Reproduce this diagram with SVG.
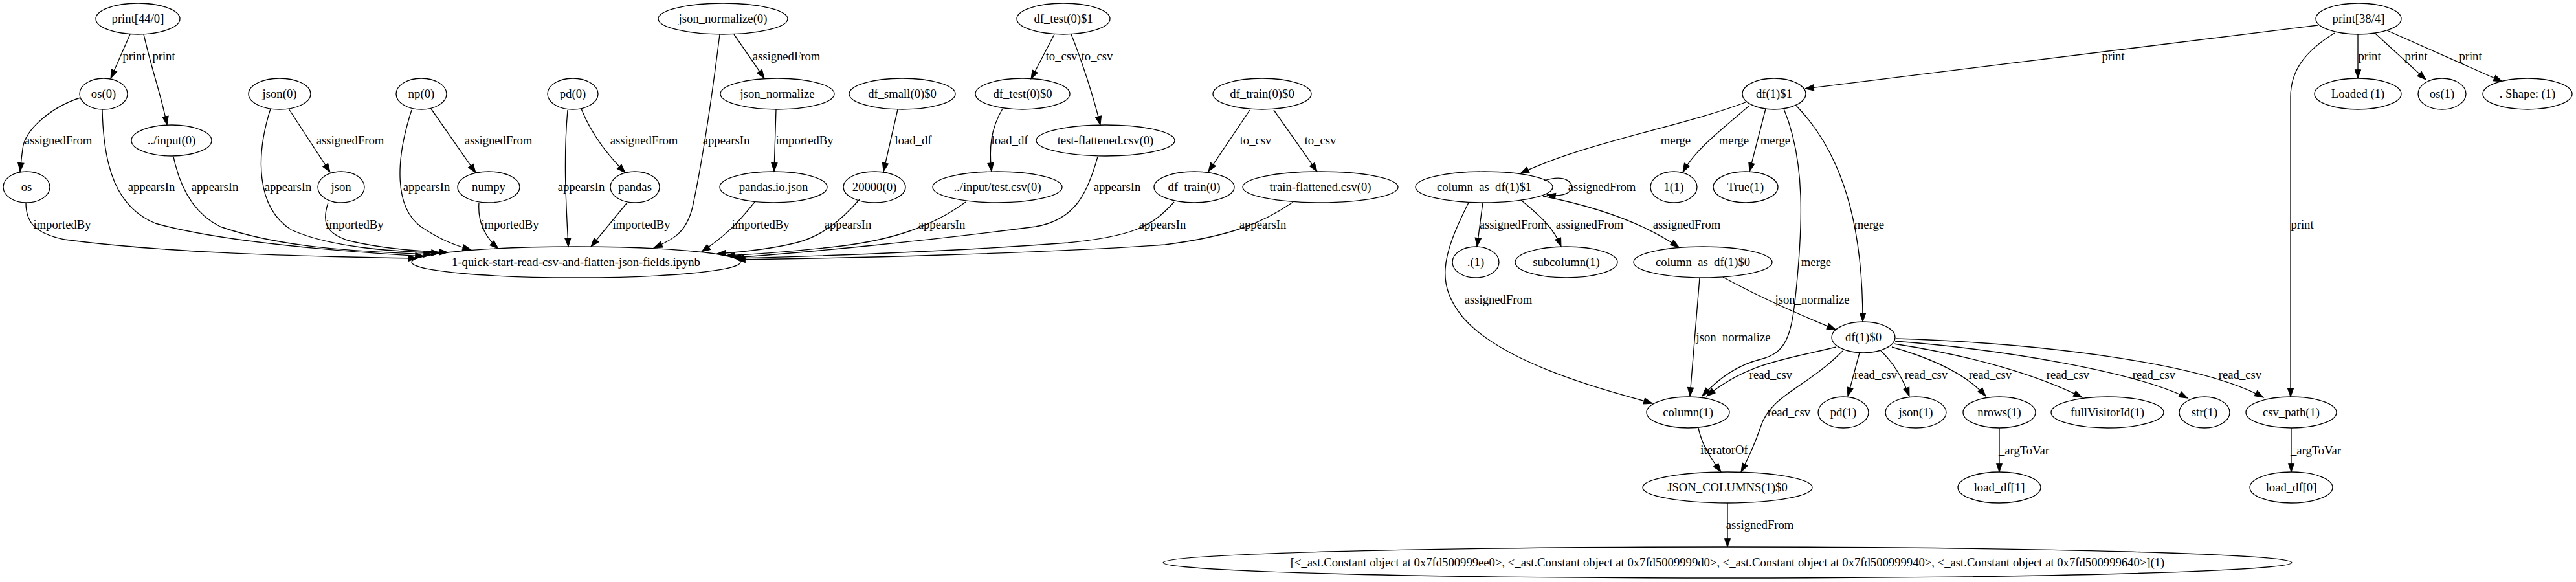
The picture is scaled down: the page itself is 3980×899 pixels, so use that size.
<svg xmlns="http://www.w3.org/2000/svg" width="3980" height="899" viewBox="0 0 3980 899">
<style>
.nd ellipse{fill:none;stroke:#000;stroke-width:1.33}
text{font-family:"Liberation Serif","Times New Roman",serif;font-size:18.67px;text-anchor:middle;fill:#000}
.ed path{fill:none;stroke:#000;stroke-width:1.33;marker-end:url(#arr)}
</style>
<defs>
<marker id="arr" markerUnits="userSpaceOnUse" markerWidth="16" markerHeight="12" refX="13.3" refY="0" viewBox="0 -6 16 12" orient="auto" overflow="visible">
<path d="M0,-4.67 L13.3,0 L0,4.67 z" fill="#000" stroke="#000" stroke-width="1"/>
</marker>
</defs>
<rect width="3980" height="899" fill="#fff"/>
<g id="edges" class="ed">
<g><path d="M201,53 L171,121"/><text x="207" y="93">print</text></g>
<g><path d="M222,53 C235,110 250,150 258,193"/><text x="253" y="93">print</text></g>
<g><path d="M124,151 C80,165 38,200 35,230 C33,245 32,255 31,265"/><text x="90" y="223">assignedFrom</text></g>
<g><path d="M158,169 C160,260 180,320 240,345 C300,362 420,382 655,396"/><text x="234" y="295">appearsIn</text></g>
<g><path d="M268,242 C278,290 300,330 340,350 C420,378 520,388 668,393"/><text x="332" y="295">appearsIn</text></g>
<g><path d="M40,313 C40,340 50,360 100,370 C250,390 450,396 644,399"/><text x="96" y="353">importedBy</text></g>
<g><path d="M446,168 L510,266"/><text x="541" y="223">assignedFrom</text></g>
<g><path d="M418,168 C395,240 395,320 450,355 C510,382 600,388 680,391"/><text x="445" y="295">appearsIn</text></g>
<g><path d="M507,313 C498,340 500,360 540,372 C590,384 640,388 692,390"/><text x="548" y="353">importedBy</text></g>
<g><path d="M666,168 L735,267"/><text x="770" y="223">assignedFrom</text></g>
<g><path d="M636,170 C610,250 610,320 650,350 C680,370 700,378 728,386"/><text x="659" y="295">appearsIn</text></g>
<g><path d="M740,313 C738,340 748,365 770,384"/><text x="788" y="353">importedBy</text></g>
<g><path d="M898,168 C915,210 940,240 966,267"/><text x="995" y="223">assignedFrom</text></g>
<g><path d="M877,170 C870,250 875,320 878,381"/><text x="898" y="295">appearsIn</text></g>
<g><path d="M969,313 L913,381"/><text x="991" y="353">importedBy</text></g>
<g><path d="M1134,53 L1181,121"/><text x="1215" y="93">assignedFrom</text></g>
<g><path d="M1112,53 C1100,150 1085,250 1070,320 C1060,360 1040,370 1010,383"/><text x="1122" y="223">appearsIn</text></g>
<g><path d="M1199,169 L1196,265"/><text x="1243" y="223">importedBy</text></g>
<g><path d="M1166,312 C1140,345 1120,365 1084,389"/><text x="1175" y="353">importedBy</text></g>
<g><path d="M1387,169 L1365,265"/><text x="1411" y="223">load_df</text></g>
<g><path d="M1328,308 C1300,340 1270,365 1230,375 C1190,385 1150,389 1108,392"/><text x="1310" y="353">appearsIn</text></g>
<g><path d="M1629,53 L1593,122"/><text x="1640" y="93">to_csv</text></g>
<g><path d="M1655,53 C1670,90 1690,150 1700,193"/><text x="1695" y="93">to_csv</text></g>
<g><path d="M1549,168 C1530,200 1528,230 1532,265"/><text x="1560" y="223">load_df</text></g>
<g><path d="M1492,312 C1440,350 1380,370 1300,380 C1230,388 1180,392 1122,395"/><text x="1455" y="353">appearsIn</text></g>
<g><path d="M1696,242 C1680,300 1660,340 1600,350 C1450,370 1250,390 1132,398"/><text x="1726" y="295">appearsIn</text></g>
<g><path d="M1931,170 L1867,265"/><text x="1940" y="223">to_csv</text></g>
<g><path d="M1968,170 L2035,265"/><text x="2040" y="223">to_csv</text></g>
<g><path d="M1814,312 C1780,350 1750,365 1650,375 C1450,390 1250,396 1136,399"/><text x="1796" y="353">appearsIn</text></g>
<g><path d="M1998,312 C1950,345 1900,365 1800,378 C1600,392 1300,399 1138,401"/><text x="1951" y="353">appearsIn</text></g>
<g><path d="M3581,39 L2789,137"/><text x="3265" y="93">print</text></g>
<g><path d="M3643,53 L3643,121"/><text x="3661" y="93">print</text></g>
<g><path d="M3669,51 L3748,123"/><text x="3733" y="93">print</text></g>
<g><path d="M3688,47 L3866,126"/><text x="3817" y="93">print</text></g>
<g><path d="M3607,51 C3560,80 3539,110 3539,150 L3539,613"/><text x="3557" y="353">print</text></g>
<g><path d="M2697,158 C2600,195 2450,220 2349,268"/><text x="2589" y="223">merge</text></g>
<g><path d="M2703,163 C2660,200 2620,230 2600,266"/><text x="2679" y="223">merge</text></g>
<g><path d="M2728,168 L2703,265"/><text x="2743" y="223">merge</text></g>
<g><path d="M2756,168 C2790,250 2785,350 2775,449 C2768,520 2760,545 2720,555 C2680,565 2650,590 2630,612"/><text x="2806" y="411">merge</text></g>
<g><path d="M2775,163 C2860,250 2878,380 2878,497"/><text x="2888" y="353">merge</text></g>
<g><path d="M2386,279 C2420,268 2432,284 2428,292 C2424,300 2410,304 2390,301"/><text x="2475" y="295">assignedFrom</text></g>
<g><path d="M2291,313 L2282,381"/><text x="2338" y="353">assignedFrom</text></g>
<g><path d="M2350,309 C2375,330 2400,350 2412,381"/><text x="2456" y="353">assignedFrom</text></g>
<g><path d="M2384,303 C2470,320 2540,345 2594,382"/><text x="2606" y="353">assignedFrom</text></g>
<g><path d="M2269,313 C2225,400 2220,440 2260,490 C2320,560 2470,600 2553,623"/><text x="2315" y="469">assignedFrom</text></g>
<g><path d="M2626,429 L2611,612"/><text x="2678" y="527">json_normalize</text></g>
<g><path d="M2662,428 C2720,460 2790,490 2836,509"/><text x="2800" y="469">json_normalize</text></g>
<g><path d="M2837,536 C2760,555 2700,560 2637,612"/><text x="2736" y="585">read_csv</text></g>
<g><path d="M2847,542 C2790,600 2735,610 2720,660 C2710,690 2700,710 2690,729"/><text x="2764" y="643">read_csv</text></g>
<g><path d="M2873,545 L2855,612"/><text x="2898" y="585">read_csv</text></g>
<g><path d="M2906,542 C2925,560 2940,585 2950,612"/><text x="2976" y="585">read_csv</text></g>
<g><path d="M2923,536 C2990,555 3040,580 3068,612"/><text x="3075" y="585">read_csv</text></g>
<g><path d="M2926,531 C3050,550 3150,580 3217,614"/><text x="3195" y="585">read_csv</text></g>
<g><path d="M2928,527 C3100,540 3300,575 3380,615"/><text x="3328" y="585">read_csv</text></g>
<g><path d="M2929,523 C3150,530 3400,560 3497,614"/><text x="3461" y="585">read_csv</text></g>
<g><path d="M2624,661 C2630,690 2645,710 2659,729"/><text x="2664" y="701">iteratorOf</text></g>
<g><path d="M2669,777 L2669,845"/><text x="2719" y="817">assignedFrom</text></g>
<g><path d="M3089,661 L3089,729"/><text x="3127" y="702">_argToVar</text></g>
<g><path d="M3540,661 L3540,729"/><text x="3578" y="702">_argToVar</text></g>
</g>
<g id="n_print44" class="nd"><ellipse cx="213" cy="29" rx="65" ry="24"/><text x="213" y="35">print[44/0]</text></g>
<g id="n_os0" class="nd"><ellipse cx="160" cy="145" rx="37" ry="24"/><text x="160" y="151">os(0)</text></g>
<g id="n_input0" class="nd"><ellipse cx="265" cy="217" rx="62" ry="24"/><text x="265" y="223">../input(0)</text></g>
<g id="n_os" class="nd"><ellipse cx="41" cy="289" rx="36" ry="24"/><text x="41" y="295">os</text></g>
<g id="n_json0" class="nd"><ellipse cx="432" cy="145" rx="48" ry="24"/><text x="432" y="151">json(0)</text></g>
<g id="n_json" class="nd"><ellipse cx="527" cy="289" rx="36" ry="24"/><text x="527" y="295">json</text></g>
<g id="n_np0" class="nd"><ellipse cx="651" cy="145" rx="39" ry="24"/><text x="651" y="151">np(0)</text></g>
<g id="n_numpy" class="nd"><ellipse cx="755" cy="289" rx="48" ry="24"/><text x="755" y="295">numpy</text></g>
<g id="n_pd0" class="nd"><ellipse cx="885" cy="145" rx="39" ry="24"/><text x="885" y="151">pd(0)</text></g>
<g id="n_pandas" class="nd"><ellipse cx="981" cy="289" rx="38" ry="24"/><text x="981" y="295">pandas</text></g>
<g id="n_jn0" class="nd"><ellipse cx="1117" cy="29" rx="100" ry="24"/><text x="1117" y="35">json_normalize(0)</text></g>
<g id="n_jn" class="nd"><ellipse cx="1201" cy="145" rx="88" ry="24"/><text x="1201" y="151">json_normalize</text></g>
<g id="n_pandasio" class="nd"><ellipse cx="1195" cy="289" rx="83" ry="24"/><text x="1195" y="295">pandas.io.json</text></g>
<g id="n_dfsmall" class="nd"><ellipse cx="1394" cy="145" rx="82" ry="24"/><text x="1394" y="151">df_small(0)$0</text></g>
<g id="n_20000" class="nd"><ellipse cx="1351" cy="289" rx="48" ry="24"/><text x="1351" y="295">20000(0)</text></g>
<g id="n_dftest1" class="nd"><ellipse cx="1643" cy="29" rx="72" ry="24"/><text x="1643" y="35">df_test(0)$1</text></g>
<g id="n_dftest0" class="nd"><ellipse cx="1580" cy="145" rx="73" ry="24"/><text x="1580" y="151">df_test(0)$0</text></g>
<g id="n_inputtest" class="nd"><ellipse cx="1541" cy="289" rx="100" ry="24"/><text x="1541" y="295">../input/test.csv(0)</text></g>
<g id="n_testflat" class="nd"><ellipse cx="1708" cy="217" rx="107" ry="24"/><text x="1708" y="223">test-flattened.csv(0)</text></g>
<g id="n_dftrain0" class="nd"><ellipse cx="1950" cy="145" rx="76" ry="24"/><text x="1950" y="151">df_train(0)$0</text></g>
<g id="n_dftrain" class="nd"><ellipse cx="1845" cy="289" rx="62" ry="24"/><text x="1845" y="295">df_train(0)</text></g>
<g id="n_trainflat" class="nd"><ellipse cx="2040" cy="289" rx="120" ry="24"/><text x="2040" y="295">train-flattened.csv(0)</text></g>
<g id="n_quick" class="nd"><ellipse cx="890" cy="405" rx="254" ry="24"/><text x="890" y="411">1-quick-start-read-csv-and-flatten-json-fields.ipynb</text></g>
<g id="n_print38" class="nd"><ellipse cx="3644" cy="29" rx="66" ry="24"/><text x="3644" y="35">print[38/4]</text></g>
<g id="n_df1_1" class="nd"><ellipse cx="2741" cy="145" rx="49" ry="24"/><text x="2741" y="151">df(1)$1</text></g>
<g id="n_loaded" class="nd"><ellipse cx="3643" cy="145" rx="67" ry="24"/><text x="3643" y="151">Loaded (1)</text></g>
<g id="n_os1" class="nd"><ellipse cx="3773" cy="145" rx="37" ry="24"/><text x="3773" y="151">os(1)</text></g>
<g id="n_shape" class="nd"><ellipse cx="3905" cy="145" rx="69" ry="24"/><text x="3905" y="151">. Shape: (1)</text></g>
<g id="n_cad1" class="nd"><ellipse cx="2293" cy="289" rx="106" ry="24"/><text x="2293" y="295">column_as_df(1)$1</text></g>
<g id="n_one" class="nd"><ellipse cx="2586" cy="289" rx="36" ry="24"/><text x="2586" y="295">1(1)</text></g>
<g id="n_true1" class="nd"><ellipse cx="2697" cy="289" rx="50" ry="24"/><text x="2697" y="295">True(1)</text></g>
<g id="n_dot1" class="nd"><ellipse cx="2280" cy="405" rx="36" ry="24"/><text x="2280" y="411">.(1)</text></g>
<g id="n_subcol" class="nd"><ellipse cx="2420" cy="405" rx="79" ry="24"/><text x="2420" y="411">subcolumn(1)</text></g>
<g id="n_cad0" class="nd"><ellipse cx="2631" cy="405" rx="107" ry="24"/><text x="2631" y="411">column_as_df(1)$0</text></g>
<g id="n_df1_0" class="nd"><ellipse cx="2879" cy="521" rx="49" ry="24"/><text x="2879" y="527">df(1)$0</text></g>
<g id="n_column1" class="nd"><ellipse cx="2608" cy="637" rx="64" ry="24"/><text x="2608" y="643">column(1)</text></g>
<g id="n_pd1" class="nd"><ellipse cx="2848" cy="637" rx="39" ry="24"/><text x="2848" y="643">pd(1)</text></g>
<g id="n_json1" class="nd"><ellipse cx="2960" cy="637" rx="47" ry="24"/><text x="2960" y="643">json(1)</text></g>
<g id="n_nrows" class="nd"><ellipse cx="3089" cy="637" rx="56" ry="24"/><text x="3089" y="643">nrows(1)</text></g>
<g id="n_fullv" class="nd"><ellipse cx="3256" cy="637" rx="87" ry="24"/><text x="3256" y="643">fullVisitorId(1)</text></g>
<g id="n_str1" class="nd"><ellipse cx="3406" cy="637" rx="39" ry="24"/><text x="3406" y="643">str(1)</text></g>
<g id="n_csvpath" class="nd"><ellipse cx="3540" cy="637" rx="70" ry="24"/><text x="3540" y="643">csv_path(1)</text></g>
<g id="n_jsoncols" class="nd"><ellipse cx="2669" cy="753" rx="131" ry="24"/><text x="2669" y="759">JSON_COLUMNS(1)$0</text></g>
<g id="n_loaddf1" class="nd"><ellipse cx="3089" cy="753" rx="64" ry="24"/><text x="3089" y="759">load_df[1]</text></g>
<g id="n_loaddf0" class="nd"><ellipse cx="3540" cy="753" rx="64" ry="24"/><text x="3540" y="759">load_df[0]</text></g>
<g id="n_big" class="nd"><ellipse cx="2669" cy="869" rx="872" ry="24"/><text x="2669" y="875">[&lt;_ast.Constant object at 0x7fd500999ee0&gt;, &lt;_ast.Constant object at 0x7fd5009999d0&gt;, &lt;_ast.Constant object at 0x7fd500999940&gt;, &lt;_ast.Constant object at 0x7fd500999640&gt;](1)</text></g>
</svg>
